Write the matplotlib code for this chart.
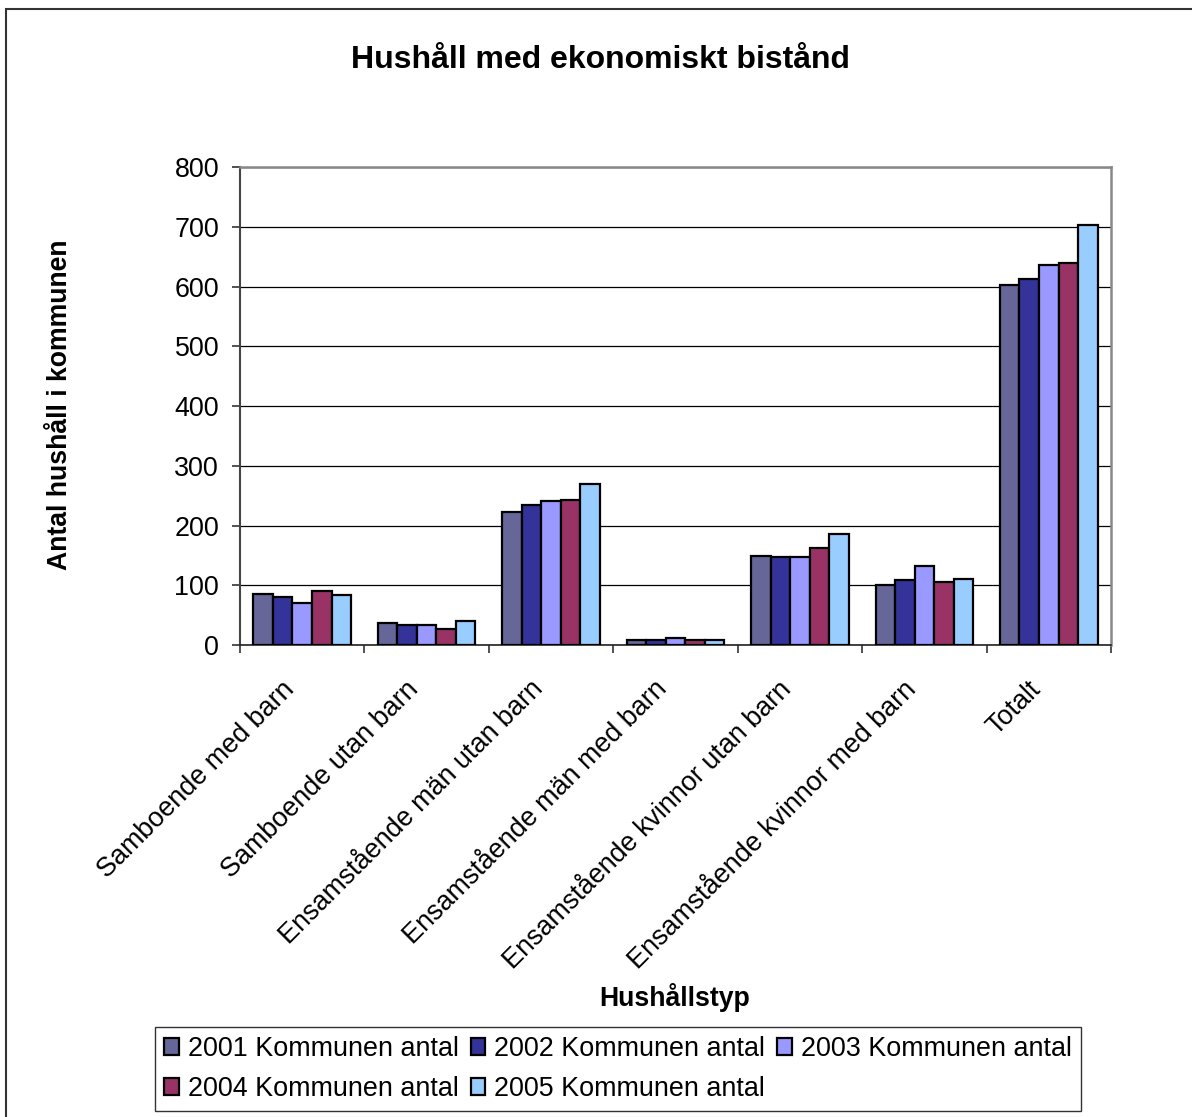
import matplotlib
matplotlib.use("Agg")
import matplotlib.pyplot as plt
import numpy as np
from matplotlib.patches import Rectangle, Patch
from matplotlib.transforms import ScaledTranslation

plt.rcParams['font.family'] = ['Liberation Sans', 'DejaVu Sans']

categories = ["Samboende med barn", "Samboende utan barn", "Ensamstående män utan barn",
              "Ensamstående män med barn", "Ensamstående kvinnor utan barn",
              "Ensamstående kvinnor med barn", "Totalt"]
series_names = ["2001 Kommunen antal", "2002 Kommunen antal", "2003 Kommunen antal",
                "2004 Kommunen antal", "2005 Kommunen antal"]
v2001 = [85, 37, 222, 8, 149, 101, 602]
v2002 = [80, 33, 235, 9, 147, 108, 612]
v2003 = [71, 33, 241, 11, 147, 133, 636]
v2004 = [90, 26, 243, 8, 163, 106, 639]
v2005 = [84, 40, 270, 8, 185, 110, 703]
values = [v2001, v2002, v2003, v2004, v2005]
colors = ["#666699", "#333399", "#9999FF", "#993366", "#99CCFF"]
yticks = [0, 100, 200, 300, 400, 500, 600, 700, 800]

W, H = 1192, 1117
FS = 19.4
fig = plt.figure(figsize=(W/100, H/100), dpi=100)
ax = fig.add_axes([240/W, 1-645/H, (1111-240)/W, (645-167)/H])

x = np.arange(len(categories))
bw = 0.157
for i, (vals, c) in enumerate(zip(values, colors)):
    ax.bar(x + (i-2)*bw, vals, width=bw, color=c, edgecolor='black', linewidth=1.6,
           label=series_names[i], zorder=3)

ax.set_xlim(-0.5, len(categories)-0.5)
ax.set_ylim(0, 800)
ax.set_yticks(yticks)
ax.set_yticklabels([str(t) for t in yticks], fontsize=FS)
ax.yaxis.grid(True, color='black', linewidth=0.9, zorder=0)
ax.set_axisbelow(True)

ax.set_xticks(x)
ax.set_xticklabels(categories, rotation=45, ha='right', va='center',
                   rotation_mode='anchor', fontsize=FS)
ax.tick_params(axis='x', which='major', length=0, pad=29)
off = ScaledTranslation(-12/100, 0, fig.dpi_scale_trans)
for lab in ax.get_xticklabels():
    lab.set_transform(lab.get_transform() + off)
ax.set_xticks(np.arange(-0.5, len(categories), 1.0), minor=True)
ax.tick_params(axis='x', which='minor', length=6, width=1.2, direction='out', color='#333333')
ax.tick_params(axis='y', length=6, width=1.2, direction='out', color='#333333', pad=9)

for side in ['top', 'right']:
    ax.spines[side].set_color('#888888')
    ax.spines[side].set_linewidth(1.8)
ax.spines['left'].set_color('#444444')
ax.spines['left'].set_linewidth(1.5)
ax.spines['bottom'].set_color('#222222')
ax.spines['bottom'].set_linewidth(1.2)

fig.text(600/W, 1-60/H, "Hushåll med ekonomiskt bistånd", ha='center', va='center',
         fontsize=23, fontweight='bold')
fig.text(60/W, 1-405/H, "Antal hushåll i kommunen", ha='center', va='center',
         rotation=90, fontsize=19.2, fontweight='bold')
fig.text(675/W, 1-998/H, "Hushållstyp", ha='center', va='center',
         fontsize=19.2, fontweight='bold')

# outer chart frame
fig.patches.append(Rectangle((6/W, -0.05), 1.1, 1-9/H+0.05, transform=fig.transFigure,
                             fill=False, edgecolor='#333333', linewidth=1.5, zorder=0))

handles = [Patch(facecolor=c, edgecolor='black', linewidth=1.6) for c in colors]
order = [0, 3, 1, 4, 2]
leg = fig.legend([handles[i] for i in order], [series_names[i] for i in order],
                 ncol=3, loc='upper left', bbox_to_anchor=(155/W, 1-1027/H),
                 bbox_transform=fig.transFigure, fontsize=FS, frameon=True,
                 fancybox=False, edgecolor='black', borderaxespad=0,
                 handlelength=0.55, handleheight=0.6, handletextpad=0.33,
                 columnspacing=0.45, labelspacing=0.52, borderpad=0.33)
leg.get_frame().set_linewidth(1.0)

fig.savefig("out.png", dpi=100)
